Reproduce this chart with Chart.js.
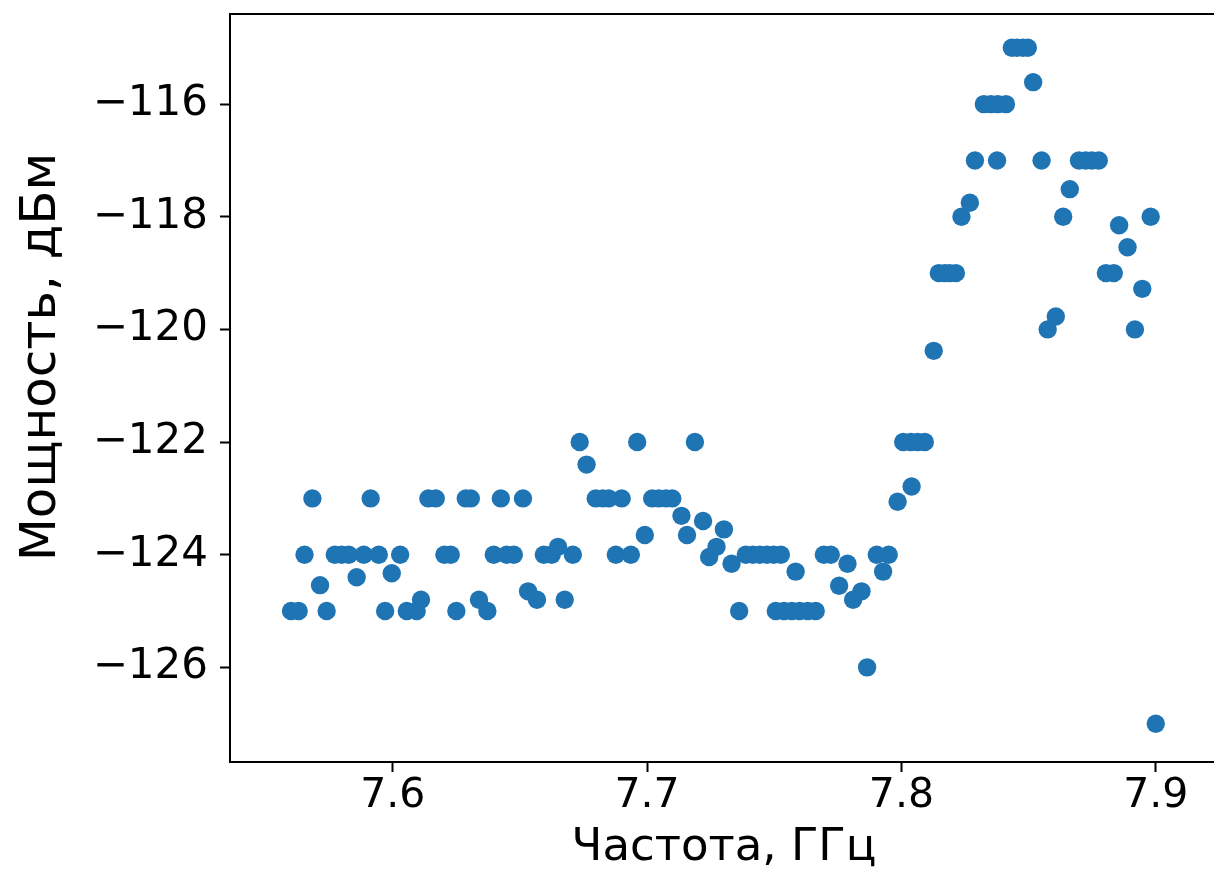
<!DOCTYPE html>
<html><head><meta charset="utf-8">
<script src="https://cdn.jsdelivr.net/npm/chart.js@4.4.0/dist/chart.umd.min.js"></script>
<style>html,body{margin:0;padding:0;background:#fff;overflow:hidden}canvas{display:block}</style>
</head><body>
<canvas id="c" width="1214" height="875"></canvas>
<script>
const frequencies = [
  7.5600, 7.5630, 7.5653, 7.5684, 7.5714, 7.5740, 7.5772, 7.5799, 7.5827, 7.5858,
  7.5886, 7.5913, 7.5945, 7.5970, 7.5996, 7.6029, 7.6055, 7.6094, 7.6111, 7.6140,
  7.6169, 7.6203, 7.6228, 7.6250, 7.6287, 7.6307, 7.6339, 7.6372, 7.6397, 7.6425,
  7.6448, 7.6476, 7.6512, 7.6532, 7.6567, 7.6594, 7.6625, 7.6650, 7.6676, 7.6708,
  7.6735, 7.6762, 7.6798, 7.6826, 7.6849, 7.6877, 7.6900, 7.6936, 7.6961, 7.6991,
  7.7020, 7.7046, 7.7074, 7.7099, 7.7135, 7.7157, 7.7188, 7.7220, 7.7244, 7.7273,
  7.7302, 7.7332, 7.7362, 7.7388, 7.7416, 7.7443, 7.7471, 7.7498, 7.7506, 7.7526,
  7.7538, 7.7569, 7.7584, 7.7600, 7.7632, 7.7663, 7.7695, 7.7722, 7.7755, 7.7788,
  7.7810, 7.7843, 7.7865, 7.7903, 7.7928, 7.7950, 7.7985, 7.8007, 7.8037, 7.8040,
  7.8064, 7.8092, 7.8127, 7.8147, 7.8171, 7.8190, 7.8214, 7.8236, 7.8269, 7.8289,
  7.8324, 7.8352, 7.8376, 7.8379, 7.8411, 7.8434, 7.8454, 7.8477, 7.8497, 7.8518,
  7.8551, 7.8575, 7.8607, 7.8636, 7.8662, 7.8698, 7.8725, 7.8749, 7.8776, 7.8804,
  7.8835, 7.8856, 7.8889, 7.8918, 7.8947, 7.8980, 7.9000
];
const powers = [
  -125, -125, -124, -123, -124.54, -125, -124, -124, -124, -124.4,
  -124, -123, -124, -125, -124.33, -124, -125, -125, -124.8, -123,
  -123, -124, -124, -125, -123, -123, -124.8, -125, -124, -123,
  -124, -124, -123, -124.65, -124.8, -124, -124, -123.86, -124.8, -124,
  -122, -122.4, -123, -123, -123, -124, -123, -124, -122, -123.65,
  -123, -123, -123, -123, -123.31, -123.65, -122, -123.4, -124.04, -123.86,
  -123.55, -124.16, -125, -124, -124, -124, -124, -124, -125, -124,
  -125, -125, -124.3, -125, -125, -125, -124, -124, -124.55, -124.16,
  -124.8, -124.65, -126, -124, -124.3, -124, -123.06, -122, -122, -122.79,
  -122, -122, -120.38, -119, -119, -119, -119, -118, -117.75, -117,
  -116, -116, -117, -116, -116, -115, -115, -115, -115, -115.61,
  -117, -120, -119.77, -118, -117.51, -117, -117, -117, -117, -119,
  -119, -118.15, -118.54, -120, -119.28, -118, -127
];
const xTicks = [7.6, 7.7, 7.8, 7.9];
const yTicks = [-126, -124, -122, -120, -118, -116];
const xTitle = 'Частота, ГГц';
const yTitle = 'Мощность, дБм';

const FONT = '"DejaVu Sans", sans-serif';
const points = frequencies.map((f, i) => ({ x: f, y: powers[i] }));

function noPad(s) { s.paddingTop = 0; s.paddingBottom = 0; s.paddingLeft = 0; s.paddingRight = 0; }

const framePlugin = {
  id: 'frame',
  afterDraw(chart) {
    const { ctx, chartArea: a } = chart;
    ctx.save();
    ctx.strokeStyle = '#000';
    ctx.lineWidth = 2;
    ctx.beginPath();
    ctx.moveTo(a.left, a.top); ctx.lineTo(a.right, a.top);
    ctx.stroke();
    ctx.fillStyle = '#000';
    // x title
    ctx.font = '45px ' + FONT;
    ctx.textAlign = 'center';
    ctx.textBaseline = 'alphabetic';
    ctx.fillText(xTitle, 724, 860);
    // y title
    ctx.translate(55, 357);
    ctx.rotate(-Math.PI / 2);
    ctx.font = '50px ' + FONT;
    ctx.fillText(yTitle, 0, 0);
    ctx.restore();
  }
};

new Chart(document.getElementById('c'), {
  type: 'scatter',
  data: {
    datasets: [{
      data: points,
      backgroundColor: '#1f74b4',
      borderWidth: 0,
      pointRadius: 9.2,
      pointHoverRadius: 9.2
    }]
  },
  options: {
    responsive: false,
    devicePixelRatio: 1,
    animation: false,
    events: [],
    layout: { autoPadding: false, padding: { left: 0, top: 14, right: 0, bottom: 0 } },
    plugins: { legend: { display: false }, tooltip: { enabled: false } },
    scales: {
      x: {
        type: 'linear',
        min: 7.5360,
        max: 7.9229,
        afterFit(s) { s.height = 113; noPad(s); },
        afterBuildTicks(s) { s.ticks = xTicks.map(v => ({ value: v })); },
        grid: { drawOnChartArea: false, drawTicks: true, tickLength: 10, tickWidth: 2, tickColor: '#000' },
        border: { color: '#000', width: 2 },
        ticks: {
          color: '#000',
          font: { family: FONT, size: 41 },
          padding: 0,
          maxRotation: 0,
          callback: v => v.toFixed(1)
        }
      },
      y: {
        type: 'linear',
        min: -127.68,
        max: -114.40,
        afterFit(s) { s.width = 230; noPad(s); },
        afterBuildTicks(s) { s.ticks = yTicks.map(v => ({ value: v })); },
        grid: { drawOnChartArea: false, drawTicks: true, tickLength: 10, tickWidth: 2, tickColor: '#000' },
        border: { color: '#000', width: 2 },
        ticks: {
          color: '#000',
          font: { family: FONT, size: 42 },
          padding: 12,
          callback: v => (v < 0 ? '\u2212' : '') + Math.abs(v)
        }
      }
    }
  },
  plugins: [framePlugin]
});
</script>
</body></html>
